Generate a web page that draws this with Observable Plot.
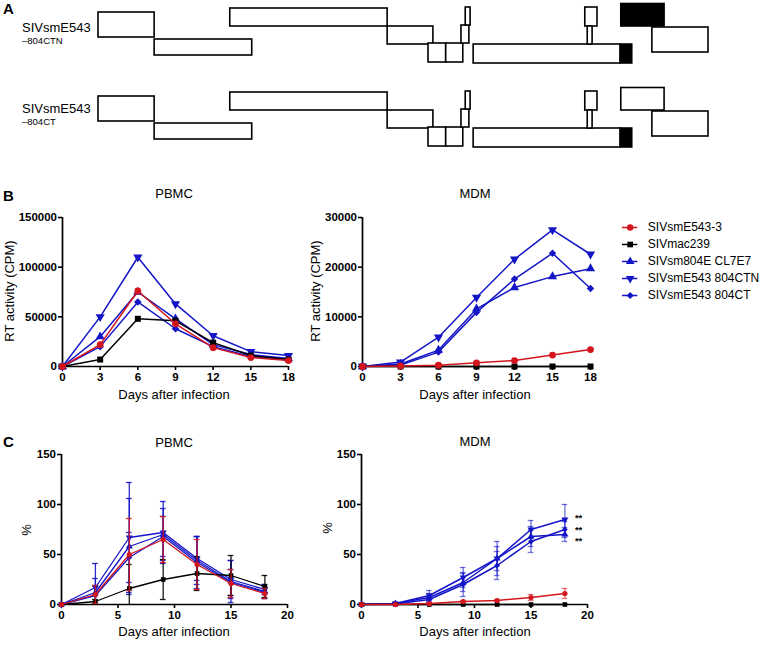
<!DOCTYPE html>
<html><head><meta charset="utf-8">
<script src="https://cdn.jsdelivr.net/npm/d3@7"></script>
<script src="https://cdn.jsdelivr.net/npm/@observablehq/plot@0.6"></script>
<style>
body{margin:0;background:#fff;}
#fig{position:relative;width:760px;height:662px;overflow:hidden;background:#fff;}
</style></head><body><div id="fig"></div>
<script>
// ---------- DATA ----------
const days = [0, 3, 6, 9, 12, 15, 18];
const seriesNames = ["SIVsmE543-3", "SIVmac239", "SIVsm804E CL7E7", "SIVsmE543 804CTN", "SIVsmE543 804CT"];
const seriesColors = ["#d4151d", "#000000", "#1515c8", "#1515c8", "#1515c8"];

// Panel B: RT activity (CPM)
const rtPBMC_E543_3 = [0, 22000, 76000, 43000, 19000, 9000, 6000];
const rtPBMC_mac239 = [0, 7000, 48000, 46000, 24000, 11000, 7000];
const rtPBMC_CL7E7 = [0, 30000, 75000, 48000, 22000, 12000, 8000];
const rtPBMC_804CTN = [0, 50000, 110000, 63000, 31000, 15000, 11000];
const rtPBMC_804CT = [0, 20000, 65000, 38000, 20000, 10000, 7000];

const rtMDM_E543_3 = [0, 100, 250, 750, 1200, 2300, 3400];
const rtMDM_mac239 = [0, 0, 0, 0, 0, 0, 0];
const rtMDM_CL7E7 = [0, 500, 3300, 11600, 15900, 18100, 19700];
const rtMDM_804CTN = [0, 900, 5900, 13900, 21600, 27500, 22600];
const rtMDM_804CT = [0, 300, 2900, 10900, 17600, 22800, 15700];

// Panel C: % (mean and error)
const pctPBMC_E543_3 = [0, 10, 50, 65, 40, 21, 11];
const errPBMC_E543_3 = [0, 9, 36, 23, 25, 14, 5];
const pctPBMC_mac239 = [0, 3, 16, 25, 31, 29, 18];
const errPBMC_mac239 = [0, 2, 24, 20, 17, 20, 11];
const pctPBMC_CL7E7 = [0, 12, 58, 70, 44, 23, 13];
const errPBMC_CL7E7 = [0, 14, 48, 26, 24, 21, 7];
const pctPBMC_804CTN = [0, 17, 67, 72, 46, 25, 15];
const errPBMC_804CTN = [0, 24, 55, 31, 22, 19, 5];
const pctPBMC_804CT = [0, 9, 47, 68, 42, 22, 12];
const errPBMC_804CT = [0, 10, 25, 20, 26, 13, 6];

const pctMDM_E543_3 = [0, 0, 1, 3, 4, 7, 11];
const errMDM_E543_3 = [0, 0, 0.5, 1, 1, 3, 5];
const pctMDM_mac239 = [0, 0, 0, 0, 0, 0, 0];
const errMDM_mac239 = [0, 0, 0, 0, 0, 0, 0];
const pctMDM_CL7E7 = [0, 1, 7, 22, 46, 68, 70];
const errMDM_CL7E7 = [0, 1, 4, 9, 12, 10, 7];
const pctMDM_804CTN = [0, 1, 9, 27, 46, 75, 85];
const errMDM_804CTN = [0, 1, 5, 10, 17, 9, 15];
const pctMDM_804CT = [0, 0.5, 5, 20, 39, 63, 75];
const errMDM_804CT = [0, 1, 3, 12, 14, 11, 8];
const starSeries = [3, 4, 2];          // series marked as significant (top to bottom)
const starLabels = ["**", "**", "**"];

// Panel A: genome map (kb positions, diagram lanes)
const constructNames = ["SIVsmE543", "SIVsmE543"];
const constructSubs = ["–804CTN", "–804CT"];
const geneStart = [0.00, 0.92, 2.16, 4.74, 5.41, 5.70, 5.95, 6.02, 6.15, 8.56, 7.98, 8.02, 8.57, 9.08];
const geneEnd   = [0.92, 2.52, 4.74, 5.49, 5.70, 5.98, 6.08, 6.10, 8.56, 8.75, 8.18, 8.10, 9.28, 10.00];
const geneTop   = [12, 39, 8, 26, 43, 43, 25, 7, 44, 44, 7, 26, 3.5, 27];
const geneBot   = [37, 55, 26, 44, 62, 62, 43, 25, 63, 63, 26, 44, 26, 52];
const geneFilled1 = [0,0,0,0,0,0,0,0,0,1,0,0,1,0];
const geneFilled2 = [0,0,0,0,0,0,0,0,0,1,0,0,0,0];
const rowShift = [0, 84];

// ---------- HELPERS ----------
const FONT = '"Liberation Sans", Arial, Helvetica, sans-serif';
const fig = document.getElementById("fig");
function place(el, left, top) {
  const d = document.createElement("div");
  d.style.cssText = `position:absolute;left:${left}px;top:${top}px;`;
  d.append(el);
  fig.append(d);
}
const downTriangle = {
  draw(context, size) {
    const s3 = Math.sqrt(3);
    const y = -Math.sqrt(size / (s3 * 3));
    context.moveTo(0, -y * 2);
    context.lineTo(-s3 * y, y);
    context.lineTo(s3 * y, y);
    context.closePath();
  }
};
const seriesSymbols = ["circle", "square", "triangle", downTriangle, "diamond2"];
const drawOrder = [2, 3, 4, 1, 0];
const starNudge = [-2, 0, 6]; // vertical nudges so the labels do not collide

function chart(o) {
  const marks = [
    Plot.ruleX([0], {stroke: "#000", strokeWidth: 1.7}),
    Plot.ruleY([0], {stroke: "#000", strokeWidth: 1.7}),
    Plot.axisY({ticks: o.yTicks, tickSize: 4, tickPadding: 1.5, tickFormat: d3.format("d"), strokeWidth: 1.6, label: null}),
    Plot.axisX({ticks: o.xTicks, tickSize: 4, tickPadding: 2, tickFormat: d3.format("d"), strokeWidth: 1.6, label: null})
  ];
  for (const i of drawOrder) {
    const data = days.map((d, k) => ({day: d, v: o.values[i][k], e: o.errors ? o.errors[i][k] : 0}));
    const c = seriesColors[i];
    if (o.errors) {
      const ed = data.filter(d => d.e > 0);
      marks.push(
        Plot.ruleX(ed, {x: "day", y1: d => Math.max(0, d.v - d.e), y2: d => d.v + d.e, stroke: c, strokeWidth: 1.3, strokeOpacity: o.errOpacity}),
        Plot.ruleY(ed, {y: d => d.v + d.e, x1: d => d.day - 0.25, x2: d => d.day + 0.25, stroke: c, strokeWidth: 1.3, strokeOpacity: o.errOpacity}),
        Plot.ruleY(ed.filter(d => d.v - d.e > 0), {y: d => d.v - d.e, x1: d => d.day - 0.25, x2: d => d.day + 0.25, stroke: c, strokeWidth: 1.3, strokeOpacity: o.errOpacity})
      );
    }
    marks.push(
      Plot.line(data, {x: "day", y: "v", stroke: c, strokeWidth: o.sw}),
      Plot.dot(data, {x: "day", y: "v", symbol: seriesSymbols[i], fill: c, stroke: "none", r: o.r})
    );
  }
  if (o.stars) {
    o.stars.forEach((si, j) => {
      const last = days.length - 1;
      marks.push(Plot.text([{day: days[last], v: o.values[si][last], t: o.starText[j]}], {
        x: "day", y: "v", text: "t", textAnchor: "start", dx: 10, dy: starNudge[j],
        fontSize: 9.5, fontWeight: "bold", lineAnchor: "middle"
      }));
    });
  }
  return Plot.plot({
    width: o.width, height: o.height,
    marginLeft: o.mL, marginRight: o.mR, marginTop: o.mT, marginBottom: o.mB,
    x: {domain: o.xDomain},
    y: {domain: o.yDomain},
    style: {fontFamily: FONT, fontSize: "11.5px", fontWeight: "bold", background: "transparent", overflow: "visible", color: "#000"},
    marks
  });
}

// ---------- PANEL A ----------
const boxes = [];
for (let r = 0; r < 2; r++) {
  const filled = r === 0 ? geneFilled1 : geneFilled2;
  geneStart.forEach((s, k) => boxes.push({
    x1: s, x2: geneEnd[k], y1: geneTop[k] + rowShift[r], y2: geneBot[k] + rowShift[r], f: filled[k]
  }));
}
place(Plot.plot({
  width: 760, height: 130, marginLeft: 98, marginRight: 52, marginTop: 0, marginBottom: 0,
  x: {domain: [0, 10], axis: null},
  y: {domain: [0, 130], reverse: true, axis: null},
  style: {background: "transparent", overflow: "visible"},
  marks: [
    Plot.rect(boxes, {x1: "x1", x2: "x2", y1: "y1", y2: "y2", fill: d => d.f ? "#000" : "#fff", stroke: "#000", strokeWidth: 1.6})
  ]
}), 0, 0);

// ---------- PANEL B ----------
place(chart({
  values: [rtPBMC_E543_3, rtPBMC_mac239, rtPBMC_CL7E7, rtPBMC_804CTN, rtPBMC_804CT],
  yDomain: [0, 150000], yTicks: [0, 50000, 100000, 150000],
  xDomain: [0, 18], xTicks: days,
  width: 300, height: 200, mL: 62, mR: 12, mT: 12, mB: 39, r: 3.4, sw: 1.5
}), 0, 205);
place(chart({
  values: [rtMDM_E543_3, rtMDM_mac239, rtMDM_CL7E7, rtMDM_804CTN, rtMDM_804CT],
  yDomain: [0, 30000], yTicks: [0, 10000, 20000, 30000],
  xDomain: [0, 18], xTicks: days,
  width: 300, height: 200, mL: 62, mR: 10, mT: 12, mB: 39, r: 3.4, sw: 1.5
}), 300, 205);

// legend
place(Plot.plot({
  width: 150, height: 88, marginLeft: 12, marginRight: 0, marginTop: 10, marginBottom: 10,
  x: {domain: [0, 9], axis: null},
  y: {type: "point", domain: seriesNames, padding: 0, axis: null},
  style: {fontFamily: FONT, fontSize: "12px", background: "transparent", overflow: "visible"},
  marks: [
    ...seriesNames.map((n, i) => Plot.ruleY([n], {y: d => d, x1: 0, x2: 1, stroke: seriesColors[i], strokeWidth: 1.5})),
    ...seriesNames.map((n, i) => Plot.dot([n], {y: d => d, x: 0.5, symbol: seriesSymbols[i], fill: seriesColors[i], stroke: "none", r: 3.2})),
    Plot.text(seriesNames, {y: d => d, x: 1.65, text: d => d, textAnchor: "start", fill: "#000"})
  ]
}), 610, 217);

// ---------- PANEL C ----------
place(chart({
  values: [pctPBMC_E543_3, pctPBMC_mac239, pctPBMC_CL7E7, pctPBMC_804CTN, pctPBMC_804CT],
  errors: [errPBMC_E543_3, errPBMC_mac239, errPBMC_CL7E7, errPBMC_804CTN, errPBMC_804CT],
  errOpacity: 0.9,
  yDomain: [0, 150], yTicks: [0, 50, 100, 150],
  xDomain: [0, 20], xTicks: [0, 5, 10, 15, 20],
  width: 300, height: 200, mL: 61, mR: 13, mT: 14, mB: 36, r: 2.6, sw: 1.3
}), 0, 440);
place(chart({
  values: [pctMDM_E543_3, pctMDM_mac239, pctMDM_CL7E7, pctMDM_804CTN, pctMDM_804CT],
  errors: [errMDM_E543_3, errMDM_mac239, errMDM_CL7E7, errMDM_804CTN, errMDM_804CT],
  errOpacity: 0.6,
  stars: starSeries, starText: starLabels,
  yDomain: [0, 150], yTicks: [0, 50, 100, 150],
  xDomain: [0, 20], xTicks: [0, 5, 10, 15, 20],
  width: 300, height: 200, mL: 61, mR: 13, mT: 14, mB: 36, r: 2.6, sw: 1.5
}), 300, 440);

// ---------- TEXT OVERLAY ----------
const ov = d3.create("svg").attr("width", 760).attr("height", 662)
  .style("position", "absolute").style("left", "0px").style("top", "0px")
  .style("pointer-events", "none").style("font-family", FONT).style("overflow", "visible");
function txt(s, x, y, size, weight = "normal", anchor = "start", rot = 0) {
  const t = ov.append("text").attr("font-size", size).attr("font-weight", weight)
    .attr("text-anchor", anchor).attr("fill", "#000").text(s);
  if (rot) t.attr("transform", `translate(${x},${y}) rotate(${rot})`);
  else t.attr("x", x).attr("y", y);
}
txt("A", 3, 14, 15, "bold");
txt(constructNames[0], 22, 31.5, 13);
txt(constructSubs[0], 22, 43.5, 9.5);
txt(constructNames[1], 22, 112.5, 13);
txt(constructSubs[1], 22, 124.5, 9.5);

txt("B", 3, 201, 15, "bold");
txt("PBMC", 174, 198, 13, "normal", "middle");
txt("MDM", 475, 198, 13, "normal", "middle");
txt("RT activity (CPM)", 14, 291, 13, "normal", "middle", -90);
txt("RT activity (CPM)", 320, 291, 13, "normal", "middle", -90);
txt("Days after infection", 174, 399, 13, "normal", "middle");
txt("Days after infection", 475, 399, 13, "normal", "middle");

txt("C", 3, 447, 15, "bold");
txt("PBMC", 174, 447, 13, "normal", "middle");
txt("MDM", 475, 446, 13, "normal", "middle");
txt("%", 31, 530, 13, "normal", "middle", -90);
txt("%", 332, 528, 13, "normal", "middle", -90);
txt("Days after infection", 174, 636, 13, "normal", "middle");
txt("Days after infection", 475, 636, 13, "normal", "middle");
fig.append(ov.node());
</script></body></html>
